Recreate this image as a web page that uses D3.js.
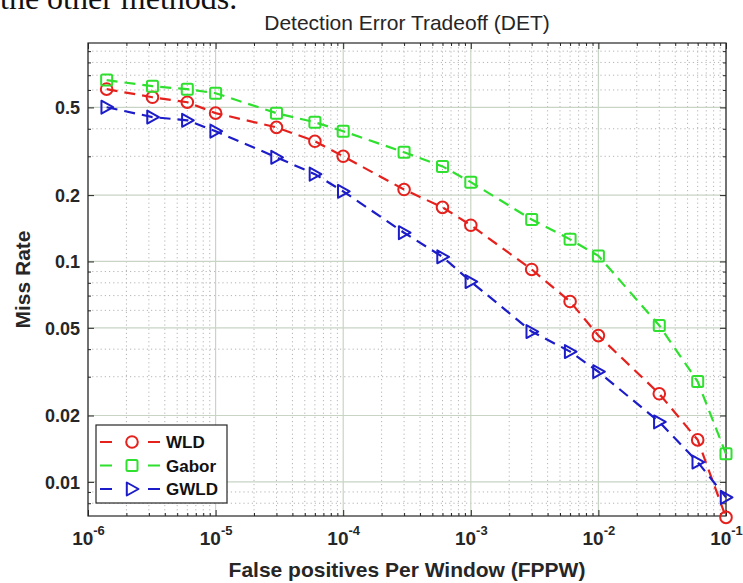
<!DOCTYPE html>
<html>
<head>
<meta charset="utf-8">
<script src="https://cdn.jsdelivr.net/npm/d3@7"></script>
<style>
  html, body { margin: 0; padding: 0; background: #fff; }
  svg { display: block; }
</style>
</head>
<body>
<script>
// ---- data ----
const fppw  = [1.4e-6, 3.2e-6, 6e-6, 1e-5, 3e-5, 6e-5, 1e-4, 3e-4, 6e-4, 1e-3, 3e-3, 6e-3, 1e-2, 3e-2, 6e-2, 1e-1];
const wld   = [0.605, 0.556, 0.528, 0.471, 0.406, 0.351, 0.300, 0.212, 0.176, 0.146, 0.092, 0.0658, 0.0461, 0.0251, 0.0155, 0.0069];
const gabor = [0.665, 0.624, 0.605, 0.580, 0.471, 0.428, 0.390, 0.313, 0.270, 0.229, 0.155, 0.126, 0.106, 0.0512, 0.0285, 0.0134];
const gwld  = [0.501, 0.452, 0.437, 0.390, 0.297, 0.249, 0.208, 0.135, 0.105, 0.0811, 0.0481, 0.039, 0.0316, 0.0187, 0.0123, 0.0085];
const seriesNames = ["WLD", "Gabor", "GWLD"];
const xTickExps = [-6, -5, -4, -3, -2, -1];
const yTicks = [0.01, 0.02, 0.05, 0.1, 0.2, 0.5];
const titleText = "Detection Error Tradeoff (DET)";
const xLabel = "False positives Per Window (FPPW)";
const yLabel = "Miss Rate";
const topText = "the other methods.";

const W = 743, H = 583;
const L = 88, R = 726, T = 43, B = 516;

const svg = d3.select("body").append("svg").attr("width", W).attr("height", H)
  .style("font-family", "'Liberation Sans', Arial, Helvetica, sans-serif");

const x = d3.scaleLog().domain([1e-6, 1e-1]).range([L, R]);
const y = d3.scaleLog().domain([0.007, 0.98]).range([B, T]);

const xTicks = xTickExps.map(e => Math.pow(10, e));
const isMajorX = v => xTicks.some(t => Math.abs(Math.log10(v) - Math.log10(t)) < 1e-6);
const isMajorY = v => yTicks.some(t => Math.abs(Math.log10(v) - Math.log10(t)) < 1e-6);
const xMinor = x.ticks().filter(v => !isMajorX(v));
const yMinor = y.ticks().filter(v => !isMajorY(v) && v > 0.0071);

// document text above the figure (cropped)
svg.append("text").attr("x", 0).attr("y", 9)
  .style("font-family", "'Liberation Serif', 'Times New Roman', serif")
  .style("font-size", "32px").attr("fill", "#111").text(topText);

// ---- grid ----
const grid = svg.append("g");
grid.selectAll(".gxm").data(xMinor).join("line")
  .attr("x1", d => x(d)).attr("x2", d => x(d)).attr("y1", T).attr("y2", B)
  .attr("stroke", "#b4b4b4").attr("stroke-width", 1).attr("stroke-dasharray", "1.2,3");
grid.selectAll(".gym").data(yMinor).join("line")
  .attr("y1", d => y(d)).attr("y2", d => y(d)).attr("x1", L).attr("x2", R)
  .attr("stroke", "#b4b4b4").attr("stroke-width", 1).attr("stroke-dasharray", "1.2,3");
grid.selectAll(".gxM").data(xTicks).join("line")
  .attr("x1", d => x(d)).attr("x2", d => x(d)).attr("y1", T).attr("y2", B)
  .attr("stroke", "#c8d4c4").attr("stroke-width", 1.2);
grid.selectAll(".gyM").data(yTicks).join("line")
  .attr("y1", d => y(d)).attr("y2", d => y(d)).attr("x1", L).attr("x2", R)
  .attr("stroke", "#c8d4c4").attr("stroke-width", 1.2);

// ---- axes ----
const axColor = "#262626";
function styleAxis(g) {
  g.select(".domain").remove();
  g.selectAll(".tick line").attr("stroke", axColor).attr("stroke-width", 1);
}
// major ticks
const gx = svg.append("g").attr("transform", `translate(0,${B})`)
  .call(d3.axisBottom(x).tickValues(xTicks).tickSize(-6).tickPadding(0)).call(styleAxis);
gx.selectAll(".tick text").each(function(d) {
  const t = d3.select(this);
  t.text(null).attr("y", 29).attr("dy", null)
    .attr("fill", axColor).style("font-size", "19px").style("font-weight", "bold");
  t.append("tspan").text("10");
  t.append("tspan").attr("dy", -10).style("font-size", "13px").text(String(Math.round(Math.log10(d))));
});
svg.append("g").attr("transform", `translate(0,${T})`)
  .call(d3.axisTop(x).tickValues(xTicks).tickSize(-6).tickFormat("")).call(styleAxis);
const gy = svg.append("g").attr("transform", `translate(${L},0)`)
  .call(d3.axisLeft(y).tickValues(yTicks).tickSize(-6).tickPadding(8).tickFormat(d => String(d)))
  .call(styleAxis);
gy.selectAll(".tick text").attr("fill", axColor).style("font-size", "18px").style("font-weight", "bold")
  .attr("dy", "0.36em");
svg.append("g").attr("transform", `translate(${R},0)`)
  .call(d3.axisRight(y).tickValues(yTicks).tickSize(-6).tickFormat("")).call(styleAxis);
// minor ticks
svg.append("g").attr("transform", `translate(0,${B})`)
  .call(d3.axisBottom(x).tickValues(xMinor).tickSize(-3).tickFormat("")).call(styleAxis);
svg.append("g").attr("transform", `translate(0,${T})`)
  .call(d3.axisTop(x).tickValues(xMinor).tickSize(-3).tickFormat("")).call(styleAxis);
svg.append("g").attr("transform", `translate(${L},0)`)
  .call(d3.axisLeft(y).tickValues(yMinor).tickSize(-3).tickFormat("")).call(styleAxis);
svg.append("g").attr("transform", `translate(${R},0)`)
  .call(d3.axisRight(y).tickValues(yMinor).tickSize(-3).tickFormat("")).call(styleAxis);

// box
svg.append("rect").attr("x", L).attr("y", T).attr("width", R - L).attr("height", B - T)
  .attr("fill", "none").attr("stroke", axColor).attr("stroke-width", 1.2);

// ---- series ----
const colors = ["#e5211d", "#2fe02f", "#1c1cc8"];
const seriesVals = [wld, gabor, gwld];
const markerTypes = ["circle", "square", "triangle"];

function drawMarker(g, type, cx, cy, color) {
  if (type === "circle") {
    g.append("circle").attr("cx", cx).attr("cy", cy).attr("r", 5.8)
      .attr("fill", "none").attr("stroke", color).attr("stroke-width", 2);
  } else if (type === "square") {
    g.append("rect").attr("x", cx - 5.5).attr("y", cy - 5.5).attr("width", 11).attr("height", 11)
      .attr("rx", 1.5).attr("fill", "none").attr("stroke", color).attr("stroke-width", 2);
  } else {
    const s = 6.5;
    g.append("path").attr("d", `M${cx + s},${cy} L${cx - s * 0.8},${cy - s} L${cx - s * 0.8},${cy + s} Z`)
      .attr("fill", "none").attr("stroke", color).attr("stroke-width", 2).attr("stroke-linejoin", "round");
  }
}

const line = d3.line().x(d => x(d[0])).y(d => y(d[1]));
seriesVals.forEach((vals, i) => {
  const pts = fppw.map((f, j) => [f, vals[j]]);
  const g = svg.append("g");
  g.append("path").attr("d", line(pts)).attr("fill", "none")
    .attr("stroke", colors[i]).attr("stroke-width", 2.2).attr("stroke-dasharray", "11,7");
  pts.forEach(p => drawMarker(g, markerTypes[i], x(p[0]), y(p[1]), colors[i]));
});

// ---- legend ----
const lg = svg.append("g");
lg.append("rect").attr("x", 96).attr("y", 425).attr("width", 131).attr("height", 78)
  .attr("fill", "#fff").attr("stroke", axColor).attr("stroke-width", 1.2);
seriesNames.forEach((name, i) => {
  const ry = 442 + i * 23.5;
  lg.append("line").attr("x1", 100).attr("x2", 160).attr("y1", ry).attr("y2", ry)
    .attr("stroke", colors[i]).attr("stroke-width", 2.2).attr("stroke-dasharray", "12,36");
  drawMarker(lg, markerTypes[i], 132, ry, colors[i]);
  lg.append("text").attr("x", 166).attr("y", ry).attr("dy", "0.36em")
    .style("font-size", "17px").style("font-weight", "bold").attr("fill", "#111").text(name);
});

// ---- titles ----
svg.append("text").attr("x", (L + R) / 2).attr("y", 30).attr("text-anchor", "middle")
  .style("font-size", "21px").attr("fill", axColor).text(titleText);
svg.append("text").attr("x", (L + R) / 2).attr("y", 577).attr("text-anchor", "middle")
  .style("font-size", "21px").style("font-weight", "bold").attr("fill", axColor).text(xLabel);
svg.append("text").attr("transform", `translate(30,${(T + B) / 2}) rotate(-90)`)
  .attr("text-anchor", "middle")
  .style("font-size", "21px").style("font-weight", "bold").attr("fill", axColor).text(yLabel);
</script>
</body>
</html>
